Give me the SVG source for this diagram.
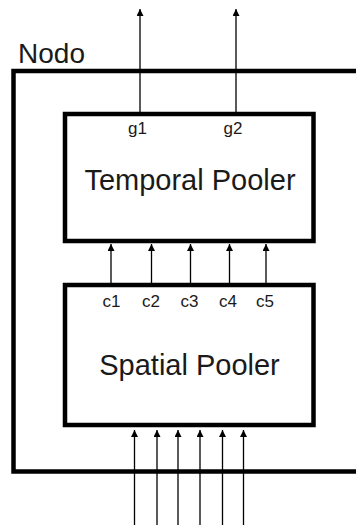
<svg xmlns="http://www.w3.org/2000/svg" width="356" height="525" viewBox="0 0 356 525">
<style>
.box{fill:none;stroke:#000;stroke-width:4.5}
.t{font-family:"Liberation Sans",Arial,sans-serif;fill:#1a1a1a;text-anchor:middle}
.lbl{font-size:17px}
.big{font-size:29px}
.c{stroke:#000;stroke-width:1.3;fill:none;marker-end:url(#ah)}
</style>
<defs>
<marker id="ah" viewBox="0 0 10 10" refX="10" refY="5" markerWidth="11" markerHeight="7" markerUnits="userSpaceOnUse" orient="auto">
<path d="M0,0 L10,5 L0,10 z" fill="#000"/>
</marker>
</defs>
<rect width="356" height="525" fill="#fff"/>
<g id="nodo">
<path class="box" d="M360,71 H13.5 V471.5 H360"/>
<text class="t" x="51.5" y="63" style="font-size:28px">Nodo</text>
</g>
<g id="temporal-pooler">
<rect class="box" x="65" y="114" width="248.5" height="127"/>
<text class="t big" x="190" y="190">Temporal Pooler</text>
<text class="t lbl" x="137.5" y="134">g1</text>
<text class="t lbl" x="233" y="134">g2</text>
</g>
<g id="spatial-pooler">
<rect class="box" x="65" y="285" width="248.5" height="140"/>
<text class="t big" x="189.5" y="375">Spatial Pooler</text>
<text class="t lbl" x="111.5" y="307">c1</text>
<text class="t lbl" x="151" y="307">c2</text>
<text class="t lbl" x="189.5" y="307">c3</text>
<text class="t lbl" x="228" y="307">c4</text>
<text class="t lbl" x="265" y="307">c5</text>
</g>
<g id="connectors">
<line class="c" x1="140" y1="112" x2="140" y2="9"/>
<line class="c" x1="236" y1="112" x2="236" y2="9"/>
<line class="c" x1="111" y1="283" x2="111" y2="244"/>
<line class="c" x1="151.5" y1="283" x2="151.5" y2="244"/>
<line class="c" x1="190.5" y1="283" x2="190.5" y2="244"/>
<line class="c" x1="229.5" y1="283" x2="229.5" y2="244"/>
<line class="c" x1="266" y1="283" x2="266" y2="244"/>
<line class="c" x1="134.5" y1="525" x2="134.5" y2="430"/>
<line class="c" x1="157" y1="525" x2="157" y2="430"/>
<line class="c" x1="178" y1="525" x2="178" y2="430"/>
<line class="c" x1="200" y1="525" x2="200" y2="430"/>
<line class="c" x1="222.5" y1="525" x2="222.5" y2="430"/>
<line class="c" x1="243.5" y1="525" x2="243.5" y2="430"/>
</g>
</svg>
